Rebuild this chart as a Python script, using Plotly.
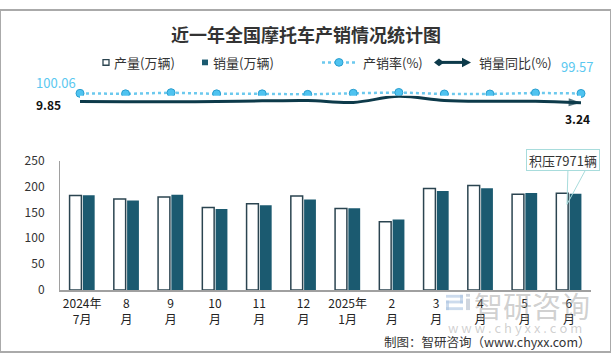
import plotly.graph_objects as go

categories = ["2024年<br>7月", "8<br>月", "9<br>月", "10<br>月", "11<br>月", "12<br>月",
              "2025年<br>1月", "2<br>月", "3<br>月", "4<br>月", "5<br>月", "6<br>月"]
production = [182.7, 175.9, 179.5, 159.3, 166.7, 181.4, 157.5, 131.7, 196.0, 201.6, 185.0, 186.9]
sales = [182.8, 172.8, 183.8, 156.3, 163.6, 174.6, 158.1, 136.0, 191.2, 196.7, 187.5, 186.1]
rate = [100.06, 98.2, 102.4, 98.1, 98.1, 96.3, 100.4, 103.3, 97.6, 97.6, 101.4, 99.57]
yoy = [9.85, 8.0, 8.0, 10.0, 13.0, 15.0, 5.0, 37.0, 15.0, 11.0, 11.0, 3.24]
backlog_text = "积压7971辆"

W, H = 611, 359
FONT = "Noto Sans CJK SC"
DARK = "#333333"
SALES_C = "#1b5a70"
PROD_LINE = "#2b4450"
RATE_C = "#6cc9ee"
YOY_C = "#0d3a4a"
CALLOUT_C = "#a8dcdc"
LOGO_C = "rgba(170,195,225,0.6)"

def px_x(p):
    return p / W

def px_y(p):
    return 1 - p / H

def paper_text(text, x, y, size=13, color=DARK, xanchor="center"):
    return dict(text=text, x=px_x(x), y=px_y(y), xref="paper", yref="paper",
                xanchor=xanchor, yanchor="middle", showarrow=False,
                font=dict(family=FONT, size=size, color=color))

def prect(x0, y0, x1, y1, color, line_color=None, lw=0):
    return dict(type="rect", xref="paper", yref="paper", x0=px_x(x0), x1=px_x(x1),
                y0=px_y(y1), y1=px_y(y0), fillcolor=color,
                line=dict(color=line_color or color, width=lw))

fig = go.Figure()

fig.add_trace(go.Bar(x=categories, y=production, name="产量(万辆)",
                     marker=dict(color="white", line=dict(color=PROD_LINE, width=1.5)),
                     xaxis="x", yaxis="y", showlegend=False))
fig.add_trace(go.Bar(x=categories, y=sales, name="销量(万辆)",
                     marker=dict(color=SALES_C, line=dict(width=0)),
                     xaxis="x", yaxis="y", showlegend=False))

n = len(categories)
fig.add_trace(go.Scatter(x=categories, y=rate, name="产销率(%)", mode="lines+markers",
                         line=dict(color=RATE_C, width=2.5, dash="dot"),
                         marker=dict(size=8, color="#4fc3f0", line=dict(color="#2a9fd0", width=1)),
                         xaxis="x2", yaxis="y2", cliponaxis=False, showlegend=False))
sizes = [10] + [0] * (n - 2) + [13]
symbols = ["diamond"] + ["circle"] * (n - 2) + ["arrow"]
fig.add_trace(go.Scatter(x=categories, y=yoy, name="销量同比(%)", mode="lines+markers",
                         line=dict(color=YOY_C, width=3, shape="spline", smoothing=1.0),
                         marker=dict(size=sizes, symbol=symbols, color=YOY_C, angleref="previous",
                                     line=dict(width=0)),
                         xaxis="x2", yaxis="y3", cliponaxis=False, showlegend=False))

annotations = [
    paper_text("<b>近一年全国摩托车产销情况统计图</b>", 306, 25, size=18),
    dict(text=f"{rate[0]:.2f}", x=categories[0], y=rate[0], xref="x2", yref="y2", showarrow=False,
         xanchor="center", yanchor="middle",
         xshift=-24, yshift=11, font=dict(family=FONT, size=13, color="#5bc8f0")),
    dict(text=f"{rate[-1]:.2f}", x=categories[-1], y=rate[-1], xref="x2", yref="y2", showarrow=False,
         xanchor="center", yanchor="middle",
         xshift=-4, yshift=27, font=dict(family=FONT, size=13, color="#5bc8f0")),
    dict(text=f"<b>{yoy[0]:.2f}</b>", x=categories[0], y=yoy[0], xref="x2", yref="y3", showarrow=False,
         xanchor="center", yanchor="middle",
         xshift=-32, yshift=-3, font=dict(family=FONT, size=12, color="#111111")),
    dict(text=f"<b>{yoy[-1]:.2f}</b>", x=categories[-1], y=yoy[-1], xref="x2", yref="y3", showarrow=False,
         xanchor="center", yanchor="middle",
         xshift=-4, yshift=-16, font=dict(family=FONT, size=12, color="#111111")),
    dict(text=backlog_text, x=px_x(563), y=px_y(157), xref="paper", yref="paper", showarrow=False,
         xanchor="center", yanchor="middle", width=70, height=18,
         bgcolor="white", bordercolor=CALLOUT_C, borderwidth=1, borderpad=1,
         font=dict(family=FONT, size=13, color=DARK)),
    paper_text("智研咨询", 532, 310, size=29, color="rgba(150,150,150,0.45)"),
    paper_text("w w w . c h y x x . c o m", 515, 333, size=13, color="rgba(150,150,150,0.45)"),
    paper_text("制图：智研咨询（www.chyxx.com）", 593, 348, size=12.5, xanchor="right"),
    paper_text("产量(万辆)", 112, 55, xanchor="left"),
    paper_text("销量(万辆)", 211, 55, xanchor="left"),
    paper_text("产销率(%)", 361, 55, xanchor="left"),
    paper_text("销量同比(%)", 477, 55, xanchor="left"),
]

shapes = [
    dict(type="rect", xref="paper", yref="paper", x0=0, y0=0, x1=1, y1=1,
         line=dict(color="#aaaaaa", width=2), fillcolor="rgba(0,0,0,0)"),
    # legend symbols
    prect(103, 52, 109, 58, "white", PROD_LINE, 1.3),
    prect(202, 52, 208, 58, SALES_C),
    dict(type="line", xref="paper", yref="paper", x0=px_x(322), x1=px_x(356), y0=px_y(55), y1=px_y(55),
         line=dict(color=RATE_C, width=2.5, dash="dot")),
    dict(type="circle", xref="paper", yref="paper", x0=px_x(335), x1=px_x(343), y0=px_y(59), y1=px_y(51),
         line=dict(color="#2a9fd0", width=1), fillcolor="#4fc3f0"),
    dict(type="line", xref="paper", yref="paper", x0=px_x(438), x1=px_x(466), y0=px_y(55), y1=px_y(55),
         line=dict(color=YOY_C, width=3)),
    dict(type="path", xref="paper", yref="paper",
         path=f"M {px_x(434)} {px_y(55)} L {px_x(439)} {px_y(51)} L {px_x(444)} {px_y(55)} L {px_x(439)} {px_y(59)} Z",
         line=dict(width=0), fillcolor=YOY_C),
    dict(type="path", xref="paper", yref="paper",
         path=f"M {px_x(462)} {px_y(50)} L {px_x(471)} {px_y(55)} L {px_x(462)} {px_y(60)} Z",
         line=dict(width=0), fillcolor=YOY_C),
    # callout wedge
    dict(type="path", xref="paper", yref="paper",
         path=f"M {px_x(568)} {px_y(165)} L {px_x(567)} {px_y(204)} L {px_x(587)} {px_y(165)}",
         line=dict(color=CALLOUT_C, width=1), fillcolor="rgba(0,0,0,0)"),
    # watermark logo (approximate)
    prect(446, 299, 463, 302, LOGO_C),
    prect(460, 299, 463, 308, LOGO_C),
    prect(446, 305, 463, 308, LOGO_C),
    prect(446, 305, 449, 315, LOGO_C),
    prect(446, 312, 463, 315, LOGO_C),
    prect(466, 303, 470, 315, "rgba(150,165,185,0.45)"),
    prect(466, 298, 470, 301, "rgba(150,165,185,0.45)"),
]

fig.update_layout(
    width=W, height=H,
    margin=dict(l=0, r=0, t=0, b=0),
    paper_bgcolor="white", plot_bgcolor="white",
    font=dict(family=FONT, size=12, color=DARK),
    barmode="group", bargap=0.40, bargroupgap=0.11,
    showlegend=False,
    xaxis=dict(domain=[px_x(60), px_x(591)], type="category", showgrid=False,
               showline=True, linecolor="#a0a0a0", linewidth=1.5, ticks="",
               tickfont=dict(family=FONT, size=12, color="#222222"), ticklabelstandoff=2),
    yaxis=dict(domain=[px_y(294), px_y(158)], range=[0, 250], dtick=50, showgrid=False,
               showline=True, linecolor="#a0a0a0", linewidth=1, ticks="", zeroline=False,
               tickfont=dict(family=FONT, size=12, color=DARK), ticklabelstandoff=12),
    xaxis2=dict(domain=[px_x(80), px_x(581)], type="category", range=[0, n - 1],
                visible=False, anchor="y2"),
    yaxis2=dict(domain=[px_y(95), px_y(80)], range=[73.75, 126.25], visible=False, anchor="x2"),
    yaxis3=dict(domain=[px_y(105), px_y(90)], range=[-35.15, 39.85], visible=False, anchor="x2"),
    annotations=annotations,
    shapes=shapes,
)

fig.write_html("out.html", config={"displayModeBar": False},
               post_script="document.body.style.margin='0';document.body.style.padding='0';")
